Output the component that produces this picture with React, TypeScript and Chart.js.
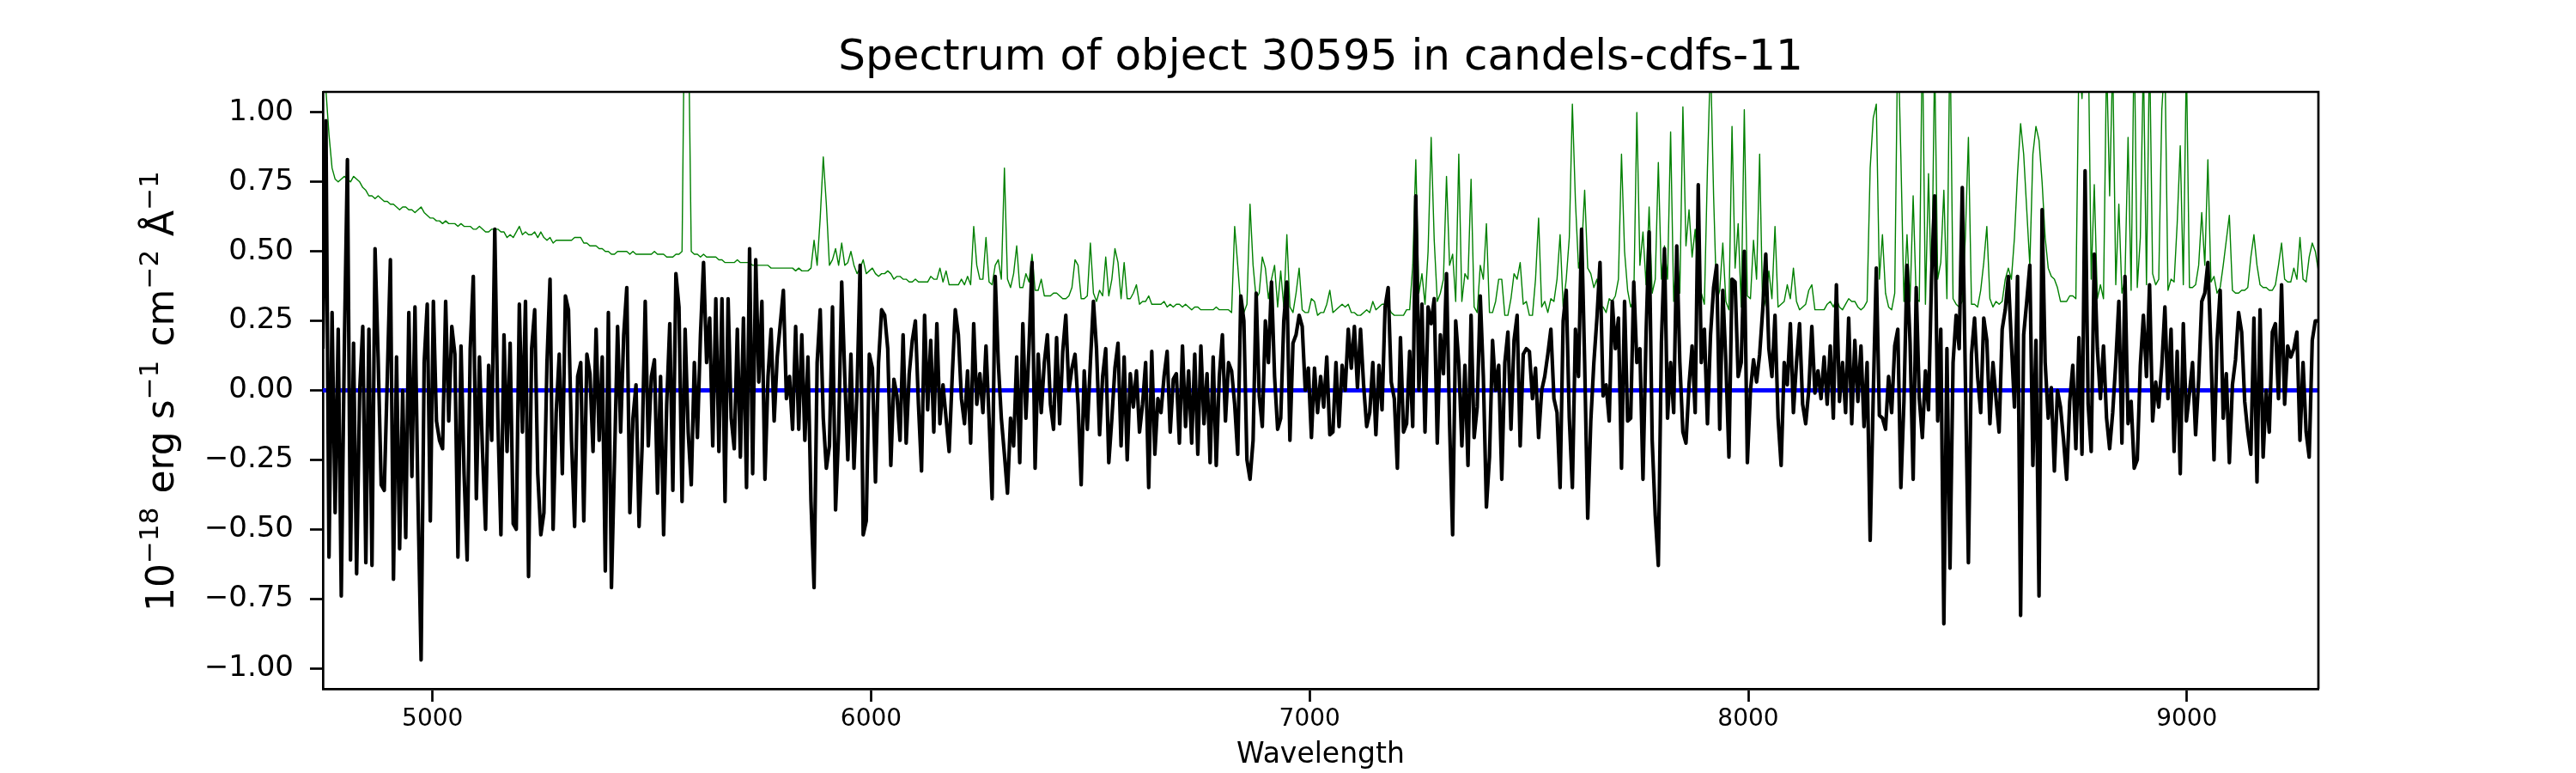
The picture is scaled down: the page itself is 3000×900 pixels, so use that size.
import React, { useEffect, useRef } from "react";
import { Chart, registerables } from "chart.js";

Chart.register(...registerables);

const TITLE = "Spectrum of object 30595 in candels-cdfs-11";
const X_LABEL = "Wavelength";
// mathtext-like label: [text, isSuperscript]
const Y_LABEL_PARTS: [string, boolean][] = [
  ["10", false],
  ["\u221218", true],
  [" erg s", false],
  ["\u22121", true],
  [" cm", false],
  ["\u22122", true],
  [" \u00c5", false],
  ["\u22121", true],
];

const WAVE_START = 4750;
const WAVE_STEP = 7;
const X_MIN = 4750;
const X_MAX = 9300;
const Y_LIMIT = 1.074;
const X_TICKS = [5000, 6000, 7000, 8000, 9000];
const Y_TICKS = [-1, -0.75, -0.5, -0.25, 0, 0.25, 0.5, 0.75, 1];

// flux, 10^-18 erg/s/cm2/A on a 7 A grid
const FLUX = [
  0.15, 0.97, -0.6, 0.28, -0.44, 0.22, -0.74, 0.16, 0.83, -0.61,
  0.17, -0.66, 0.0, 0.23, -0.62, 0.22, -0.63, 0.51, 0.12, -0.34,
  -0.36, 0.05, 0.47, -0.68, 0.12, -0.57, 0.0, -0.53, 0.28, -0.31,
  0.3, -0.4, -0.97, 0.1, 0.31, -0.47, 0.32, -0.11, -0.18, -0.21,
  0.32, -0.11, 0.23, 0.13, -0.6, 0.16, -0.3, -0.61, 0.15, 0.41,
  -0.39, 0.12, -0.22, -0.5, 0.09, -0.18, 0.58, -0.1, -0.52, 0.2,
  -0.22, 0.17, -0.48, -0.5, 0.31, -0.15, 0.32, -0.67, 0.15, 0.29,
  -0.3, -0.52, -0.44, 0.1, 0.4, -0.5, -0.08, 0.13, -0.3, 0.34,
  0.29, -0.18, -0.49,
  0.05, 0.1, -0.47, 0.13, 0.06, -0.22, 0.22, -0.18, 0.12, -0.65,
  0.28, -0.71, -0.25, 0.23, -0.15, 0.2, 0.37, -0.44, -0.1, 0.02,
  -0.49, -0.2, 0.32, -0.2, 0.05, 0.11, -0.37, 0.05, -0.52, -0.05,
  0.24, -0.36, 0.42, 0.3, -0.4, 0.22, -0.15, -0.34, 0.1, -0.17,
  0.2, 0.46, 0.1, 0.26, -0.2, 0.33, -0.22, 0.33, -0.4, 0.33,
  -0.1, -0.21, 0.22, -0.24, 0.26, -0.35, 0.51, -0.3, 0.47, 0.03,
  0.32, -0.32, 0.05, 0.22, -0.11, 0.12, 0.24, 0.36, -0.03, 0.05,
  -0.14, 0.23, -0.14, 0.2, -0.18, 0.12, -0.4, -0.71, 0.1, 0.29,
  -0.1, -0.28,
  -0.2, 0.3, -0.43, -0.15, 0.39, 0.05, -0.25, 0.13, -0.28, 0.0,
  0.45, -0.52, -0.47, 0.13, 0.08, -0.33, 0.1, 0.29, 0.27, 0.15,
  -0.27, 0.04, -0.02, -0.18, 0.2, -0.19, 0.06, 0.18, 0.25, -0.05,
  -0.29, 0.27, -0.07, 0.18, -0.15, 0.24, -0.12, 0.02, -0.1, -0.22,
  0.05, 0.29, 0.2, -0.03, -0.12, 0.07, -0.19, 0.24, -0.05, 0.06,
  -0.08, 0.16, -0.1, -0.39, 0.41, 0.1, -0.1, -0.23, -0.37, -0.1,
  -0.2, 0.12, -0.26, 0.24, -0.1, 0.15, 0.46, -0.28, 0.13, -0.08,
  0.1, 0.2, -0.05, -0.14, 0.19, -0.12, 0.14, 0.27, 0.0, 0.08,
  0.13, -0.05, -0.34,
  0.07, -0.14, 0.1, 0.32, 0.15, -0.16, 0.05, 0.15, -0.26, -0.1,
  0.08, 0.17, -0.2, 0.12, -0.25, 0.06, -0.06, 0.07, -0.15, -0.05,
  0.1, -0.35, 0.14, -0.23, -0.03, -0.08, 0.05, 0.14, -0.15, 0.04,
  0.06, -0.19, 0.16, -0.13, 0.07, -0.19, 0.13, -0.23, 0.16, -0.12,
  0.06, -0.26, 0.12, -0.27, 0.05, 0.2, -0.11, 0.1, 0.07, -0.05,
  -0.23, 0.34, 0.25, -0.25, -0.32, -0.18, 0.35, -0.02, -0.13, 0.25,
  0.1, 0.39, 0.05, -0.14, -0.1, 0.25, 0.39, -0.18, 0.17, 0.2,
  0.27, 0.23, 0.0, 0.08, -0.17, 0.08, -0.08, 0.05, -0.06, 0.12,
  -0.16, -0.15,
  0.1, -0.13, 0.09, 0.0, 0.22, 0.08, 0.23, 0.01, 0.22, 0.02,
  -0.13, -0.08, 0.1, -0.16, 0.09, -0.07, 0.3, 0.37, 0.03, -0.03,
  -0.28, 0.19, -0.15, -0.12, 0.14, -0.13, 0.7, 0.0, 0.31, -0.15,
  0.3, 0.24, 0.33, -0.19, 0.2, 0.06, 0.42, -0.12, -0.52, 0.25,
  0.1, -0.2, 0.09, -0.27, 0.27, -0.17, -0.06, 0.34, 0.05, -0.42,
  -0.24, 0.18, 0.0, 0.09, -0.32, 0.1, 0.21, -0.14, 0.18, 0.27,
  -0.2, 0.13, 0.15, 0.14, -0.03, 0.08, -0.17, 0.0, 0.05, 0.13,
  0.22, -0.03, -0.08, -0.35, 0.25, 0.36, -0.1, -0.35, 0.22, 0.05,
  0.58, 0.1, -0.46,
  -0.11, 0.1, 0.26, 0.46, -0.02, 0.02, -0.11, 0.32, 0.15, 0.26,
  -0.28, 0.32, -0.11, -0.1, 0.39, 0.1, 0.15, -0.32, 0.2, 0.57,
  -0.18, -0.45, -0.63, 0.17, 0.51, -0.1, 0.1, -0.08, 0.52, 0.1,
  -0.15, -0.19, 0.02, 0.16, -0.08, 0.74, 0.1, 0.22, -0.12, 0.2,
  0.37, 0.45, -0.14, 0.36, 0.1, -0.24, 0.4, 0.39, 0.05, 0.1,
  0.5, -0.26, 0.0, 0.11, 0.03, 0.13, 0.29, 0.49, 0.15, 0.05,
  0.27, -0.1, -0.27, 0.1, 0.02, 0.24, -0.08, 0.1, 0.24, -0.05,
  -0.12, 0.0, 0.23, -0.01, 0.07, -0.03, 0.12, -0.05, 0.16, -0.1,
  0.38, -0.04,
  0.1, -0.08, 0.26, -0.12, 0.18, -0.04, 0.16, -0.13, 0.1, -0.54,
  -0.02, 0.44, -0.09, -0.1, -0.14, 0.05, -0.08, 0.16, 0.22, -0.35,
  -0.04, 0.45, 0.17, -0.32, 0.37, -0.03, -0.17, 0.07, -0.07, 0.41,
  0.7, -0.11, 0.22, -0.84, 0.15, -0.64, 0.1, 0.27, 0.15, 0.73,
  0.05, -0.62, 0.13, 0.26, 0.05, -0.08, 0.26, 0.18, -0.12, 0.1,
  -0.03, -0.15, 0.22, 0.29, 0.41, 0.17, -0.06, 0.41, -0.81, 0.2,
  0.32, 0.45, -0.27, 0.18, -0.74, 0.65, 0.1, -0.1, 0.01, -0.29,
  0.0, -0.06, -0.18, -0.32, -0.04, 0.09, -0.21, 0.19, -0.23, 0.79,
  -0.05, -0.22, 0.49,
  0.15, -0.03, 0.16, -0.1, -0.21, -0.08, 0.1, 0.32, -0.19, 0.41,
  -0.12, -0.04, -0.28, -0.25, 0.09, 0.27, 0.05, 0.38, -0.11, 0.03,
  -0.06, 0.09, 0.3, -0.03, 0.22, -0.22, 0.14, -0.3, 0.24, -0.11,
  -0.01, 0.1, -0.16, 0.04, 0.32, 0.35, 0.46, 0.15, -0.25, 0.18,
  0.36, -0.1, 0.06, -0.26, 0.02, 0.11, 0.28, 0.21, -0.04, -0.15,
  -0.23, 0.26, -0.33, 0.29, -0.24, 0.0, -0.15, 0.21, 0.24, -0.03,
  0.38, -0.05, 0.16, 0.12, 0.15, 0.21, -0.18, 0.1, -0.15, -0.24,
  0.18, 0.25, 0.25,
];

// noise spectrum on the same grid (sky lines run off the top)
const ERROR = [
  1.5, 1.08, 0.92, 0.8, 0.76, 0.75, 0.76, 0.77, 0.76, 0.75,
  0.77, 0.76, 0.75, 0.73, 0.72, 0.7, 0.7, 0.69, 0.7, 0.69,
  0.68, 0.68, 0.67, 0.67, 0.66, 0.65, 0.66, 0.66, 0.65, 0.65,
  0.64, 0.65, 0.66, 0.64, 0.63, 0.62, 0.62, 0.61, 0.61, 0.6,
  0.61, 0.6, 0.6, 0.6, 0.59, 0.6, 0.59, 0.59, 0.59, 0.58,
  0.58, 0.59, 0.58, 0.57, 0.57, 0.58, 0.58, 0.58, 0.57, 0.57,
  0.55, 0.56, 0.55, 0.57, 0.59, 0.56, 0.57, 0.56, 0.56, 0.57,
  0.55, 0.57, 0.55, 0.54, 0.55, 0.53, 0.54, 0.54, 0.54, 0.54,
  0.54, 0.54, 0.55,
  0.55, 0.55, 0.53, 0.53, 0.52, 0.52, 0.52, 0.51, 0.51, 0.5,
  0.5, 0.49, 0.49, 0.5, 0.5, 0.5, 0.5, 0.49, 0.5, 0.49,
  0.49, 0.49, 0.49, 0.49, 0.49, 0.5, 0.49, 0.49, 0.49, 0.48,
  0.48, 0.48, 0.49, 0.49, 0.5, 1.6, 1.4, 0.5, 0.49, 0.49,
  0.48, 0.49, 0.48, 0.48, 0.48, 0.48, 0.47, 0.47, 0.46, 0.46,
  0.46, 0.46, 0.47, 0.46, 0.46, 0.46, 0.46, 0.45, 0.45, 0.45,
  0.45, 0.45, 0.45, 0.44, 0.44, 0.44, 0.44, 0.44, 0.44, 0.44,
  0.44, 0.43, 0.44, 0.43, 0.43, 0.43, 0.44, 0.54, 0.45, 0.62,
  0.84, 0.67,
  0.45, 0.47, 0.51, 0.45, 0.53, 0.45, 0.46, 0.5, 0.45, 0.42,
  0.44, 0.47, 0.42, 0.43, 0.44, 0.42, 0.41, 0.42, 0.42, 0.43,
  0.42, 0.4, 0.41, 0.41, 0.4, 0.4, 0.39, 0.39, 0.4, 0.39,
  0.39, 0.39, 0.39, 0.41, 0.4, 0.4, 0.44, 0.39, 0.43, 0.38,
  0.38, 0.38, 0.38, 0.4, 0.38, 0.41, 0.38, 0.59, 0.45, 0.4,
  0.4, 0.55, 0.39, 0.38, 0.45, 0.47, 0.4, 0.8, 0.4, 0.37,
  0.42, 0.52, 0.37, 0.37, 0.42, 0.39, 0.49, 0.36, 0.36, 0.4,
  0.34, 0.34, 0.34, 0.35, 0.35, 0.34, 0.33, 0.33, 0.34, 0.37,
  0.47, 0.45, 0.33,
  0.33, 0.34, 0.53, 0.35, 0.32, 0.36, 0.34, 0.48, 0.34, 0.4,
  0.51, 0.46, 0.33, 0.46, 0.33, 0.33, 0.35, 0.38, 0.31, 0.32,
  0.32, 0.34, 0.31, 0.31, 0.31, 0.31, 0.32, 0.3, 0.31, 0.3,
  0.31, 0.31, 0.3, 0.31, 0.3, 0.29, 0.3, 0.3, 0.29, 0.29,
  0.29, 0.29, 0.29, 0.3, 0.29, 0.29, 0.29, 0.29, 0.28, 0.59,
  0.45, 0.3, 0.28, 0.31, 0.67, 0.45, 0.33, 0.35, 0.48, 0.44,
  0.33, 0.4, 0.45, 0.3, 0.43, 0.3, 0.56, 0.3, 0.28, 0.35,
  0.44, 0.29, 0.28, 0.28, 0.33, 0.32, 0.27, 0.28, 0.28, 0.31,
  0.36, 0.28,
  0.29, 0.3, 0.31, 0.3, 0.31, 0.28, 0.28, 0.27, 0.27, 0.28,
  0.29, 0.28, 0.32, 0.29, 0.3, 0.31, 0.31, 0.3, 0.28, 0.27,
  0.27, 0.27, 0.27, 0.29, 0.29, 0.45, 0.83, 0.35, 0.42, 0.31,
  0.5, 0.91, 0.54, 0.32, 0.35, 0.4, 0.77, 0.45, 0.49, 0.32,
  0.85, 0.32, 0.42, 0.4, 0.76, 0.3, 0.28, 0.45, 0.4, 0.6,
  0.28, 0.28, 0.32, 0.4, 0.4, 0.27, 0.27, 0.33, 0.42, 0.4,
  0.46, 0.31, 0.32, 0.27, 0.27, 0.4, 0.62, 0.3, 0.32, 0.28,
  0.33, 0.32, 0.4, 0.56, 0.3, 0.4, 0.55, 1.03, 0.68, 0.44,
  0.5, 0.72, 0.44,
  0.42, 0.37, 0.4, 0.3, 0.3, 0.28, 0.33, 0.32, 0.34, 0.4,
  0.85, 0.5, 0.36, 0.3, 0.33, 1.0, 0.45, 0.57, 0.38, 0.66,
  0.35, 0.4, 0.82, 0.4, 0.52, 0.4, 0.93, 0.32, 0.5, 0.35,
  1.02, 0.52, 0.65, 0.48, 0.58, 0.4, 0.35, 0.31, 0.8, 1.2,
  0.7, 0.32, 0.36, 0.53, 0.32, 0.29, 0.95, 0.44, 0.6, 0.3,
  1.01, 0.34, 0.33, 0.54, 0.4, 0.85, 0.28, 0.33, 0.43, 0.33,
  0.59, 0.3, 0.31, 0.32, 0.38, 0.33, 0.44, 0.32, 0.29, 0.3,
  0.31, 0.36, 0.38, 0.29, 0.29, 0.29, 0.29, 0.31, 0.32, 0.3,
  0.33, 0.3,
  0.29, 0.31, 0.33, 0.32, 0.32, 0.3, 0.29, 0.3, 0.32, 0.8,
  0.98, 1.03, 0.4, 0.56, 0.35, 0.3, 0.29, 0.35, 1.3, 0.84,
  0.32, 0.56, 0.32, 0.7, 0.33, 0.32, 1.3, 0.31, 0.78, 0.33,
  1.2, 0.4, 0.46, 0.72, 0.33, 1.3, 0.33, 0.31, 0.3, 0.32,
  0.55, 0.91, 0.31, 0.31, 0.3, 0.36, 0.46, 0.59, 0.33, 0.3,
  0.32, 0.31, 0.32, 0.4, 0.44, 0.4, 0.55, 0.78, 0.96, 0.85,
  0.65, 0.45, 0.85, 0.95, 0.9, 0.75, 0.55, 0.44, 0.41, 0.4,
  0.37, 0.32, 0.32, 0.32, 0.34, 0.34, 0.33, 1.2, 1.05, 1.3,
  1.3, 0.4, 0.74,
  0.33, 0.38, 0.33, 1.2, 0.7, 1.2, 0.38, 0.67, 0.35, 0.4,
  0.91, 0.36, 1.3, 0.37, 0.55, 1.2, 0.38, 1.25, 0.42, 0.38,
  0.4, 1.01, 1.2, 0.36, 0.4, 0.39, 0.6, 0.88, 0.38, 1.2,
  0.37, 0.37, 0.38, 0.45, 0.64, 0.45, 0.83, 0.39, 0.41, 0.35,
  0.37, 0.45, 0.54, 0.63, 0.36, 0.35, 0.35, 0.36, 0.36, 0.37,
  0.48, 0.56, 0.45, 0.38, 0.37, 0.37, 0.36, 0.36, 0.38, 0.45,
  0.53, 0.4, 0.39, 0.39, 0.44, 0.4, 0.55, 0.4, 0.39, 0.48,
  0.53, 0.5, 0.43,
];

const ZERO_LINE = [0, 0];

const FONT = "'DejaVu Sans', sans-serif";

function formatTick(v: number) {
  return v.toFixed(2).replace("-", "\u2212");
}

// frame (top/right spines) + title and axis labels
const labelsPlugin = {
  id: "spectrumLabels",
  afterDraw(chart: Chart) {
    const { ctx, chartArea } = chart;
    const { left, right, top, bottom } = chartArea;
    const midX = (left + right) / 2;
    const midY = (top + bottom) / 2;

    ctx.save();
    ctx.strokeStyle = "#000";
    ctx.lineWidth = 2.7;
    ctx.beginPath();
    ctx.moveTo(left, top);
    ctx.lineTo(right, top);
    ctx.lineTo(right, bottom);
    ctx.stroke();

    ctx.fillStyle = "#000";
    ctx.textBaseline = "alphabetic";
    ctx.textAlign = "center";
    ctx.font = `50px ${FONT}`;
    ctx.fillText(TITLE, midX, 81);

    ctx.font = `33px ${FONT}`;
    ctx.fillText(X_LABEL, midX, 888);

    ctx.translate(202, midY);
    ctx.rotate(-Math.PI / 2);
    ctx.textAlign = "left";
    const fontFor = (sup: boolean) => `${sup ? 31 : 44}px ${FONT}`;
    let total = 0;
    for (const [t, sup] of Y_LABEL_PARTS) {
      ctx.font = fontFor(sup);
      total += ctx.measureText(t).width + (sup ? 2 : 0);
    }
    let x = -total / 2;
    for (const [t, sup] of Y_LABEL_PARTS) {
      ctx.font = fontFor(sup);
      ctx.fillText(t, x, sup ? -18 : 0);
      x += ctx.measureText(t).width + (sup ? 2 : 0);
    }
    ctx.restore();
  },
};

export default function App() {
  const canvasRef = useRef<HTMLCanvasElement>(null);

  useEffect(() => {
    document.body.style.margin = "0";
    if (!canvasRef.current) return;

    const wave = FLUX.map((_, i) => WAVE_START + i * WAVE_STEP);
    const flux = wave.map((x, i) => ({ x, y: FLUX[i] }));
    const err = wave.map((x, i) => ({ x, y: ERROR[i] }));
    const zero = [X_MIN, X_MAX].map((x, i) => ({ x, y: ZERO_LINE[i] }));

    const axisCommon = {
      grid: {
        drawOnChartArea: false,
        drawTicks: true,
        tickLength: 15,
        tickWidth: 2.7,
        tickColor: "#000",
      },
      border: { display: true, color: "#000", width: 2.7 },
    };

    const chart = new Chart(canvasRef.current, {
      type: "line",
      data: {
        datasets: [
          {
            label: "flux",
            data: flux,
            borderColor: "#000000",
            borderWidth: 4.2,
            borderJoinStyle: "round",
            pointRadius: 0,
            tension: 0,
            order: 0,
          },
          {
            label: "error",
            data: err,
            borderColor: "#008000",
            borderWidth: 1.4,
            borderJoinStyle: "round",
            pointRadius: 0,
            tension: 0,
            order: 1,
          },
          {
            label: "zero",
            data: zero,
            borderColor: "#0000ff",
            borderWidth: 5,
            pointRadius: 0,
            order: 2,
          },
        ],
      },
      options: {
        responsive: false,
        devicePixelRatio: 1,
        animation: false,
        events: [],
        layout: { padding: { top: 107, right: 300, left: 0, bottom: 0 } },
        plugins: {
          legend: { display: false },
          title: { display: false },
          tooltip: { enabled: false },
        },
        scales: {
          x: {
            type: "linear",
            min: X_MIN,
            max: X_MAX,
            afterFit: (s: any) => {
              s.height = 98;
            },
            afterBuildTicks: (s: any) => {
              s.ticks = X_TICKS.map((value) => ({ value }));
            },
            ticks: {
              color: "#000",
              font: { family: FONT, size: 28 },
              padding: 4,
              maxRotation: 0,
              autoSkip: false,
              callback: (v: any) => String(v),
            },
            ...axisCommon,
          },
          y: {
            type: "linear",
            min: -Y_LIMIT,
            max: Y_LIMIT,
            afterFit: (s: any) => {
              s.width = 376;
            },
            afterBuildTicks: (s: any) => {
              s.ticks = Y_TICKS.map((value) => ({ value }));
            },
            ticks: {
              color: "#000",
              font: { family: FONT, size: 34 },
              padding: 19,
              autoSkip: false,
              callback: (v: any) => formatTick(Number(v)),
            },
            ...axisCommon,
          },
        },
      },
      plugins: [labelsPlugin],
    });

    return () => chart.destroy();
  }, []);

  return (
    <div style={{ width: 3000, height: 900, background: "#fff" }}>
      <canvas
        ref={canvasRef}
        width={3000}
        height={900}
        style={{ display: "block", width: 3000, height: 900 }}
      />
    </div>
  );
}
